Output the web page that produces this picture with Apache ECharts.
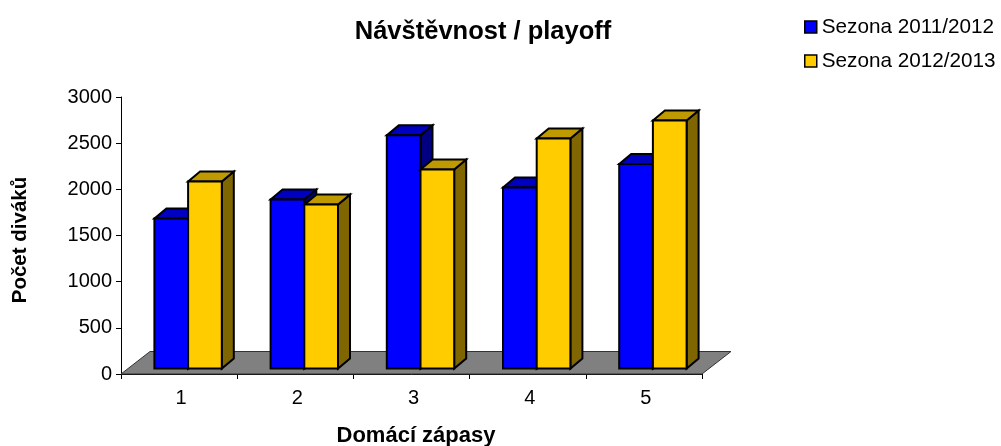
<!DOCTYPE html>
<html>
<head>
<meta charset="utf-8">
<style>
  html, body { margin: 0; padding: 0; background: #fff; }
  #chart { width: 1001px; height: 446px; }
</style>
<script src="https://cdn.jsdelivr.net/npm/echarts@6/dist/echarts.min.js"></script>
</head>
<body>
<div id="chart"></div>
<script>
const categories = ["1", "2", "3", "4", "5"];
const season1 = [1625, 1830, 2525, 1960, 2215];
const season2 = [2025, 1775, 2155, 2490, 2685];
const seriesNames = ["Sezona 2011/2012", "Sezona 2012/2013"];

const fontFamily = '"Liberation Sans", Arial, sans-serif';

// fake 3d: how far the floor and the bars are pushed back
const floorDepth = { x: 29, y: -22.5 };
const barShift = { x: 9, y: -5.5 };
const barDepth = { x: 12, y: -10 };
const barWidthRatio = 0.29;

function polygon(points, fill, lineWidth) {
  return {
    type: "polygon",
    shape: { points: points },
    style: { fill: fill, stroke: "#000", lineWidth: lineWidth, lineJoin: "miter" },
  };
}

function barRenderer(slot, front, top, side) {
  return (params, api) => {
    const cat = api.value(0);
    const p = api.coord([cat, api.value(1)]);
    const base = api.coord([cat, 0]);
    const w = api.size([1, 0])[0] * barWidthRatio;
    const x0 = p[0] + barShift.x + (slot - 1) * w;
    const x1 = x0 + w;
    const yTop = p[1] + barShift.y;
    const yBase = base[1] + barShift.y;
    const dx = barDepth.x;
    const dy = barDepth.y;
    return {
      type: "group",
      children: [
        polygon([[x1, yTop], [x1 + dx, yTop + dy], [x1 + dx, yBase + dy], [x1, yBase]], side, 2),
        polygon([[x0, yTop], [x0 + dx, yTop + dy], [x1 + dx, yTop + dy], [x1, yTop]], top, 2),
        polygon([[x0, yTop], [x1, yTop], [x1, yBase], [x0, yBase]], front, 2),
      ],
    };
  };
}

function floorRenderer(params) {
  const r = params.coordSys;
  const bottom = r.y + r.height;
  return {
    type: "polygon",
    shape: {
      points: [
        [r.x, bottom],
        [r.x + floorDepth.x, bottom + floorDepth.y],
        [r.x + r.width + floorDepth.x, bottom + floorDepth.y],
        [r.x + r.width, bottom],
      ],
    },
    style: { fill: "#808080", stroke: "#333", lineWidth: 1 },
  };
}

const chart = echarts.init(document.getElementById("chart"));
chart.setOption({
  animation: false,
  backgroundColor: "#fff",
  title: {
    text: "Návštěvnost / playoff",
    left: 478,
    top: 14,
    textAlign: "center",
    textStyle: { fontFamily: fontFamily, fontSize: 25.5, fontWeight: "bold", color: "#000" },
  },
  legend: {
    left: 799,
    top: 11.5,
    orient: "vertical",
    itemWidth: 12,
    itemHeight: 12,
    itemGap: 13,
    selectedMode: false,
    textStyle: { fontFamily: fontFamily, fontSize: 20.7, lineHeight: 20, color: "#000" },
    data: [
      { name: seriesNames[0], icon: "rect", itemStyle: { color: "#0000FF", borderColor: "#000", borderWidth: 1.5 } },
      { name: seriesNames[1], icon: "rect", itemStyle: { color: "#FFCC00", borderColor: "#000", borderWidth: 1.5 } },
    ],
  },
  grid: { left: 121, top: 97, width: 581, height: 277, outerBoundsMode: "none" },
  xAxis: {
    type: "category",
    data: categories,
    name: "Domácí zápasy",
    nameLocation: "middle",
    nameGap: 51,
    nameTextStyle: { fontFamily: fontFamily, fontSize: 22, fontWeight: "bold", color: "#000", padding: [0, 0, 0, 9] },
    axisLine: { lineStyle: { color: "#000", width: 1 } },
    axisTick: { show: true, length: 5, lineStyle: { color: "#000" } },
    axisLabel: { fontFamily: fontFamily, fontSize: 20, color: "#000", margin: 14, padding: [0, 0, 0, 4] },
  },
  yAxis: {
    type: "value",
    min: 0,
    max: 3000,
    interval: 500,
    name: "Počet diváků",
    nameLocation: "middle",
    nameGap: 90,
    nameTextStyle: { fontFamily: fontFamily, fontSize: 20.5, fontWeight: "bold", color: "#000", padding: [0, 9, 0, 0] },
    splitLine: { show: false },
    axisLine: { show: true, lineStyle: { color: "#000", width: 1 } },
    axisTick: { show: true, length: 5, lineStyle: { color: "#000" } },
    axisLabel: { fontFamily: fontFamily, fontSize: 20, color: "#000", margin: 9, formatter: (v) => String(v) },
  },
  series: [
    {
      type: "custom",
      name: "floor",
      silent: true,
      z: 1,
      clip: false,
      renderItem: floorRenderer,
      data: [[0, 0]],
      encode: { x: 0, y: 1 },
    },
    {
      type: "custom",
      name: seriesNames[0],
      z: 2,
      clip: false,
      itemStyle: { color: "#0000FF" },
      renderItem: barRenderer(0, "#0000FF", "#0000C0", "#000080"),
      data: season1.map((v, i) => [i, v]),
      encode: { x: 0, y: 1 },
    },
    {
      type: "custom",
      name: seriesNames[1],
      z: 3,
      clip: false,
      itemStyle: { color: "#FFCC00" },
      renderItem: barRenderer(1, "#FFCC00", "#BF9900", "#806600"),
      data: season2.map((v, i) => [i, v]),
      encode: { x: 0, y: 1 },
    },
  ],
});
</script>
</body>
</html>
